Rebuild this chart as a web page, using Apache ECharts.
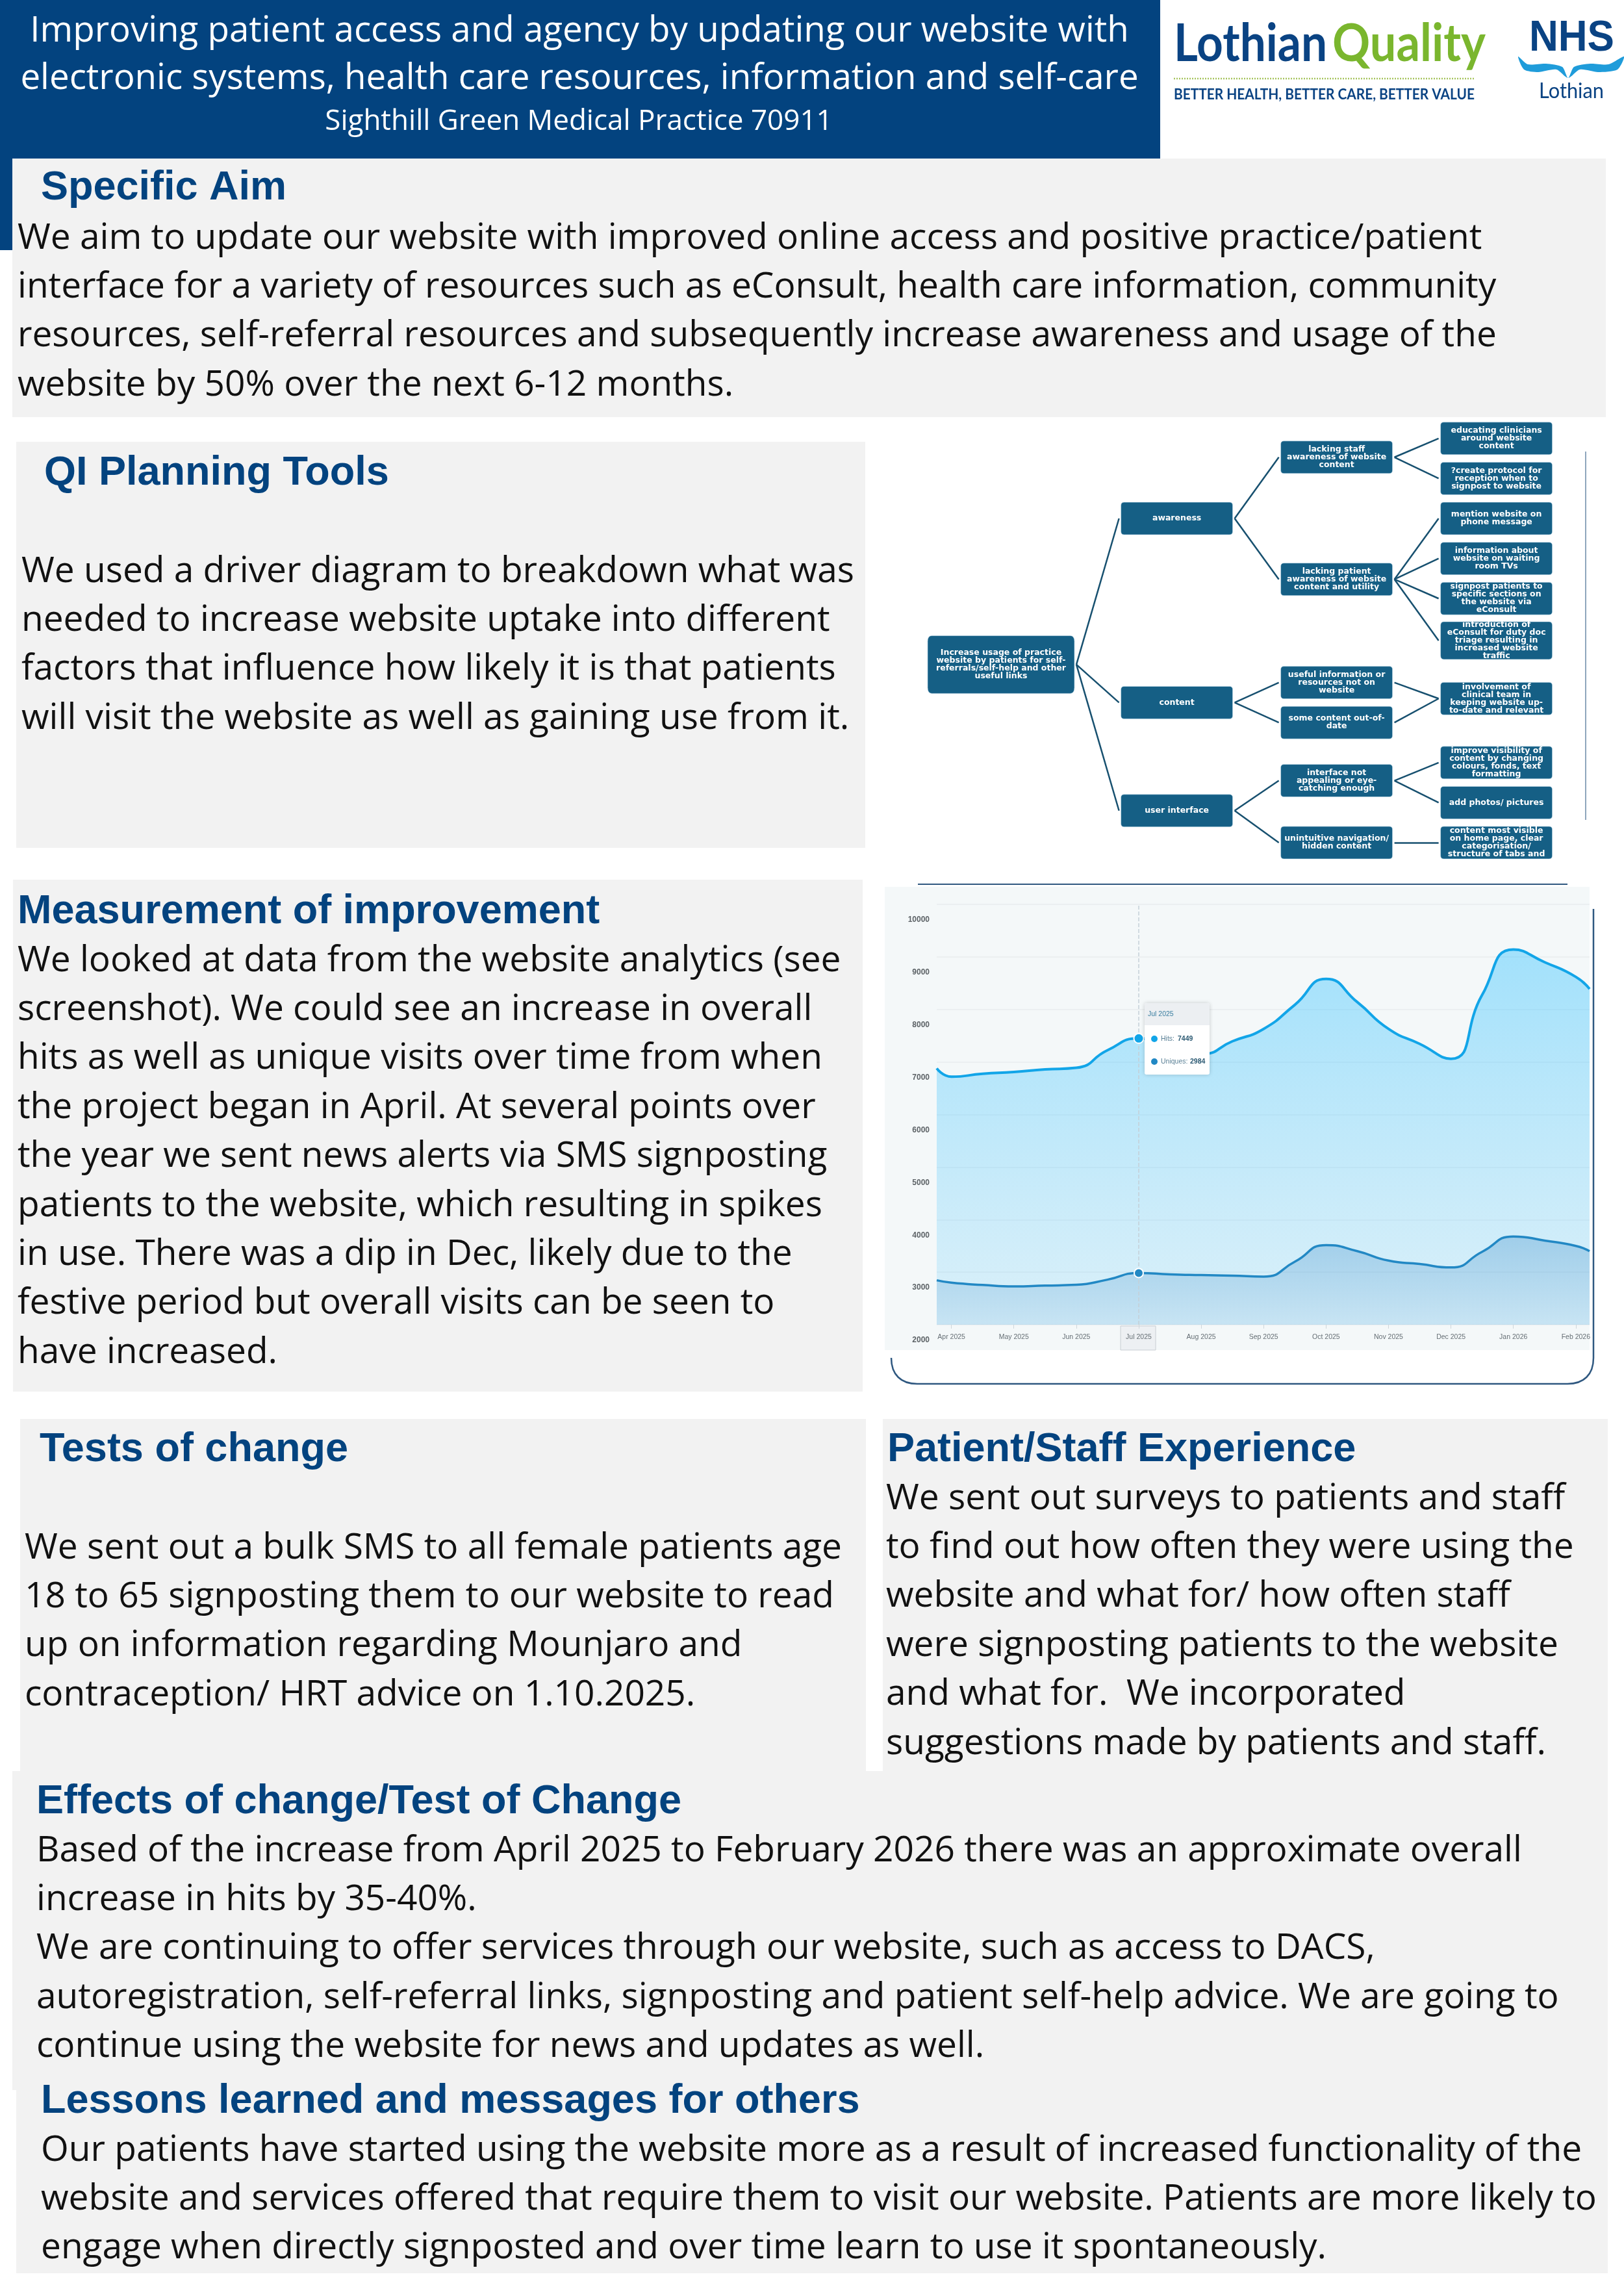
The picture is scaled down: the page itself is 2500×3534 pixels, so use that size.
<!DOCTYPE html>
<html>
<head>
<meta charset="utf-8">
<title>Sighthill Green Medical Practice QI poster</title>
<script src="https://cdn.jsdelivr.net/npm/echarts@6/dist/echarts.min.js"></script>
<style>
html, body { margin: 0; padding: 0; background: #fff; }
#poster { width: 2500px; height: 3534px; }
</style>
</head>
<body>
<div id="poster"></div>
<script>
// analytics chart
var months = ['Apr 2025', 'May 2025', 'Jun 2025', 'Jul 2025', 'Aug 2025', 'Sep 2025', 'Oct 2025', 'Nov 2025', 'Dec 2025', 'Jan 2026', 'Feb 2026'];
var hits = [6720, 6810, 6890, 7449, 7150, 7630, 8580, 7630, 7060, 9140, 8620];
var uniques = [2800, 2730, 2760, 2984, 2945, 2915, 3515, 3220, 3090, 3680, 3500];
// the curve read half way between each month and the next
var hitsBetween = [6776, 6858, 7224, 7280, 7394, 8088, 8140, 7344, 8277, 8900];
var uniquesBetween = [2757, 2745, 2858, 2959, 2934, 3199, 3400, 3155, 3388, 3602];
var hitsEdges = [6880, 8390];       // where the curve is cut by the plot, left and right
var uniquesEdges = [2845, 3400];
var yTicks = [2000, 3000, 4000, 5000, 6000, 7000, 8000, 9000, 10000];
var tipMonth = 'Jul 2025';
var tipHits = '7449';
var tipUniques = '2984';

// driver diagram
var driverLabels = [
    'Increase usage of practice\nwebsite by patients for self-\nreferrals/self-help and other\nuseful links',
    'awareness', 'content', 'user interface',
    'lacking staff\nawareness of website\ncontent',
    'lacking patient\nawareness of website\ncontent and utility',
    'useful information or\nresources not on\nwebsite',
    'some content out-of-\ndate',
    'interface not\nappealing or eye-\ncatching enough',
    'unintuitive navigation/\nhidden content',
    'educating clinicians\naround website\ncontent',
    '?create protocol for\nreception when to\nsignpost to website',
    'mention website on\nphone message',
    'information about\nwebsite on waiting\nroom TVs',
    'signpost patients to\nspecific sections on\nthe website via\neConsult',
    'introduction of\neConsult for duty doc\ntriage resulting in\nincreased website\ntraffic',
    'involvement of\nclinical team in\nkeeping website up-\nto-date and relevant',
    'improve visibility of\ncontent by changing\ncolours, fonds, text\nformatting',
    'add photos/ pictures',
    'content most visible\non home page, clear\ncategorisation/\nstructure of tabs and'
];
var driverColumns = [0, 1.1, 1.1, 1.1, 2.1, 2.1, 2.1, 2.1, 2.1, 2.1, 3.1, 3.1, 3.1, 3.1, 3.1, 3.1, 3.1, 3.1, 3.1, 3.1];
var driverRows = [5.65, 2.0, 6.6, 9.3, 0.47, 3.52, 6.1, 7.1, 8.55, 10.1, 0, 1, 2, 3, 4, 5.05, 6.5, 8.1, 9.1, 10.1];
var driverLinks = [[0, 1], [0, 2], [0, 3], [1, 4], [1, 5], [2, 6], [2, 7], [3, 8], [3, 9],
    [4, 10], [4, 11], [5, 12], [5, 13], [5, 14], [5, 15], [6, 16], [7, 16], [8, 17], [8, 18], [9, 19]];

// poster text
var titleLines = ['Improving patient access and agency by updating our website with', 'electronic systems, health care resources, information and self-care'];
var practiceLine = 'Sighthill Green Medical Practice 70911';
var aimLines = [
    'We aim to update our website with improved online access and positive practice/patient',
    'interface for a variety of resources such as eConsult, health care information, community',
    'resources, self-referral resources and subsequently increase awareness and usage of the',
    'website by 50% over the next 6-12 months.'];
var planningLines = [
    'We used a driver diagram to breakdown what was',
    'needed to increase website uptake into different',
    'factors that influence how likely it is that patients',
    'will visit the website as well as gaining use from it.'];
var measureLines = [
    'We looked at data from the website analytics (see',
    'screenshot). We could see an increase in overall',
    'hits as well as unique visits over time from when',
    'the project began in April. At several points over',
    'the year we sent news alerts via SMS signposting',
    'patients to the website, which resulting in spikes',
    'in use. There was a dip in Dec, likely due to the',
    'festive period but overall visits can be seen to',
    'have increased.'];
var testLines = [
    'We sent out a bulk SMS to all female patients age',
    '18 to 65 signposting them to our website to read',
    'up on information regarding Mounjaro and',
    'contraception/ HRT advice on 1.10.2025.'];
var experienceLines = [
    'We sent out surveys to patients and staff',
    'to find out how often they were using the',
    'website and what for/ how often staff',
    'were signposting patients to the website',
    'and what for.  We incorporated',
    'suggestions made by patients and staff.'];
var effectLines = [
    'Based of the increase from April 2025 to February 2026 there was an approximate overall',
    'increase in hits by 35-40%.',
    'We are continuing to offer services through our website, such as access to DACS,',
    'autoregistration, self-referral links, signposting and patient self-help advice. We are going to',
    'continue using the website for news and updates as well.'];
var lessonLines = [
    'Our patients have started using the website more as a result of increased functionality of the',
    'website and services offered that require them to visit our website. Patients are more likely to',
    'engage when directly signposted and over time learn to use it spontaneously.'];

var NAVY = '#03437f';
var LOGO_BLUE = '#0a4383';
var BODY_FONT = '"Open Sans"';
var HEAD_FONT = '"Liberation Sans"';
var BODY_SIZE = 55;
var BODY_LEADING = 75.4;

var graphics = [];
var measureCtx = document.createElement('canvas').getContext('2d');

function rect(x, y, w, h, fill, z, r) {
    graphics.push({type: 'rect', z: z || -10, shape: {x: x, y: y, width: w, height: h, r: r || 0}, style: {fill: fill}});
}
function text(x, y, str, size, color, opts) {
    opts = opts || {};
    var family = opts.font || BODY_FONT;
    var weight = opts.weight || 'normal';
    var scaleX = 1;
    if (opts.fit) {     // squeeze logo lettering to the width it has in the poster
        measureCtx.font = weight + ' ' + size + 'px ' + family;
        scaleX = opts.fit / measureCtx.measureText(str).width;
    }
    graphics.push({
        type: 'text', z: opts.z || -5, x: x, y: y, scaleX: scaleX,
        style: {
            text: str, fill: color,
            fontFamily: family, fontSize: size, fontWeight: weight,
            align: opts.align || 'left', verticalAlign: 'middle'
        }
    });
}
function paragraph(x, y, lines) {
    for (var n = 0; n < lines.length; n++) {
        text(x, y + n * BODY_LEADING, lines[n], BODY_SIZE, '#111111');
    }
}
function heading(x, y, str) {
    text(x, y, str, 63, NAVY, {font: HEAD_FONT, weight: 'bold'});
}
function stroke(type, shape, color, width, z) {
    graphics.push({type: type, z: z || -9, shape: shape, style: {fill: 'none', stroke: color, lineWidth: width}});
}

// banner
rect(0, 0, 1786, 244, NAVY);
rect(0, 244, 19, 141, NAVY);
text(892, 48, titleLines[0], 54.7, '#ffffff', {align: 'center'});
text(892, 121, titleLines[1], 54.7, '#ffffff', {align: 'center'});
text(891, 187, practiceLine, 44, '#ffffff', {align: 'center'});

// logos
text(1807, 68, 'Lothian', 80, LOGO_BLUE, {font: 'Lato', weight: 'bold', fit: 236});
text(2051, 68, 'Quality', 80, '#7ab62e', {font: 'Lato', weight: 'bold', fit: 236});
graphics.push({type: 'line', z: -5, shape: {x1: 1807, y1: 121, x2: 2270, y2: 121}, style: {stroke: '#a6c45e', lineWidth: 2.5, lineDash: [2, 2]}});
text(1807, 145, 'BETTER HEALTH, BETTER CARE, BETTER VALUE', 23.5, LOGO_BLUE, {font: 'Lato', weight: 'bold', fit: 463});
text(2354, 60, 'NHS', 66, LOGO_BLUE, {font: HEAD_FONT, weight: 'bold', fit: 131});
graphics.push({
    type: 'polygon', z: -5,
    shape: {
        smooth: 0.25,
        points: [[2337, 87], [2352, 99], [2380, 98], [2405, 103], [2414, 120], [2423, 103], [2448, 98], [2476, 99], [2500, 87],
            [2490, 107], [2460, 111], [2432, 107], [2414, 120], [2396, 107], [2368, 111], [2346, 107]]
    },
    style: {fill: '#1f9cda'}
});
text(2369, 140, 'Lothian', 33, LOGO_BLUE, {font: 'Lato', fit: 100});

// panels
rect(19, 244, 2453, 398, '#f2f2f2');
rect(25, 680, 1307, 625, '#f2f2f2');
rect(20, 1354, 1308, 788, '#f2f2f2');
rect(31, 2184, 1302, 542, '#f2f2f2');
rect(1359, 2184, 1116, 542, '#f2f2f2');
rect(19, 2726, 2456, 491, '#f2f2f2');
rect(25, 3217, 2450, 282, '#f2f2f2');

heading(63, 290, 'Specific Aim');
paragraph(27, 367, aimLines);
heading(68, 729, 'QI Planning Tools');
paragraph(33, 880, planningLines);
heading(27, 1404, 'Measurement of improvement');
paragraph(27, 1479, measureLines);
heading(61, 2232, 'Tests of change');
paragraph(38, 2383, testLines);
heading(1366, 2232, 'Patient/Staff Experience');
paragraph(1364, 2307, experienceLines);
heading(56, 2774, 'Effects of change/Test of Change');
paragraph(56, 2849, effectLines);
heading(63, 3235, 'Lessons learned and messages for others');
paragraph(63, 3310, lessonLines);

// frames around the two pasted screenshots
stroke('line', {x1: 2441, y1: 695, x2: 2441, y2: 1262}, '#8fa6bd', 2);
rect(1362, 1365, 1085, 713, '#f4f8f9', -8);
stroke('line', {x1: 1413, y1: 1361, x2: 2413, y2: 1361}, '#2f5880', 2);
stroke('polyline', {points: [[2453, 1399], [2453, 2090]]}, '#2f5880', 2.5);
stroke('bezierCurve', {x1: 2453, y1: 2090, cpx1: 2453, cpy1: 2116, cpx2: 2438, cpy2: 2130, x2: 2413, y2: 2130}, '#2f5880', 2.5);
stroke('line', {x1: 2413, y1: 2130, x2: 1412, y2: 2130}, '#2f5880', 2.5);
stroke('bezierCurve', {x1: 1412, y1: 2130, cpx1: 1387, cpy1: 2130, cpx2: 1372, cpy2: 2116, x2: 1372, y2: 2090}, '#2f5880', 2.5);

// Jul 2025 axis flag and hover card from the analytics screenshot
graphics.push({type: 'rect', z: -1, shape: {x: 1725, y: 2041, width: 54, height: 37}, style: {fill: '#edf0f3', stroke: '#c9ced3', lineWidth: 1}});
graphics.push({type: 'rect', z: 100, shape: {x: 1762, y: 1544, width: 100, height: 110, r: 3},
    style: {fill: '#ffffff', shadowBlur: 6, shadowColor: 'rgba(0,0,0,0.18)'}});
graphics.push({type: 'rect', z: 101, shape: {x: 1762, y: 1544, width: 100, height: 34, r: [3, 3, 0, 0]}, style: {fill: '#eceff2'}});
text(1767, 1561, tipMonth, 10.5, '#3a7ea0', {font: HEAD_FONT, z: 102});
graphics.push({type: 'circle', z: 102, shape: {cx: 1777, cy: 1599, r: 5}, style: {fill: '#12a5e8'}});
text(1787, 1599, 'Hits:', 10.5, '#5b8196', {font: HEAD_FONT, z: 102});
text(1813, 1599, tipHits, 10.5, '#2c5a73', {font: HEAD_FONT, weight: 'bold', z: 102});
graphics.push({type: 'circle', z: 102, shape: {cx: 1777, cy: 1634, r: 5}, style: {fill: '#2288c4'}});
text(1787, 1634, 'Uniques:', 10.5, '#5b8196', {font: HEAD_FONT, z: 102});
text(1832, 1634, tipUniques, 10.5, '#2c5a73', {font: HEAD_FONT, weight: 'bold', z: 102});

// driver diagram goes through a hidden pair of axes, with small port nodes so the
// connectors fan out from the box edges instead of the box centres
var NODE_H = 50;
var COL_UNIT = 246;
var BOX_PATH = 'path://M5 0H167Q172 0 172 5V45Q172 50 167 50H5Q0 50 0 45V5Q0 0 5 0Z';
var driverNodes = [];
for (var n = 0; n < driverLabels.length; n++) {
    var w = n == 0 ? 226 : 172;
    var h = n == 0 ? 89 : (n == 15 ? 58 : NODE_H);
    driverNodes.push({
        name: driverLabels[n],
        value: [driverColumns[n], driverRows[n]],
        symbol: BOX_PATH,
        symbolKeepAspect: false,
        symbolSize: [w, h]
    });
}
var driverEdges = [];
function port(index, side) {
    var half = (driverNodes[index].symbolSize[0] / 2 + 3) / COL_UNIT;
    driverNodes.push({
        name: 'port' + driverNodes.length,
        value: [driverColumns[index] + side * half, driverRows[index]],
        symbol: 'circle',
        symbolSize: 0,
        label: {show: false}
    });
    return driverNodes.length - 1;
}
for (var n = 0; n < driverLinks.length; n++) {
    driverEdges.push({source: port(driverLinks[n][0], 1), target: port(driverLinks[n][1], -1)});
}

function seriesPoints(values, between, edges) {
    var pts = [[-0.235, edges[0]]];
    for (var n = 0; n < values.length; n++) {
        pts.push([n, values[n]]);
        if (n < between.length) pts.push([n + 0.5, between[n]]);
    }
    pts.push([10.22, edges[1]]);
    return pts;
}
var monthIndexes = [];
for (var n = 0; n < months.length; n++) monthIndexes.push(n);

var chart = echarts.init(document.getElementById('poster'));
chart.setOption({
    animation: false,
    backgroundColor: '#ffffff',
    graphic: {elements: graphics},
    grid: [
        {left: 1442, right: 53, top: 1392, bottom: 1495, containLabel: false},
        {left: 1418, width: 984, top: 644, height: 690}
    ],
    xAxis: [
        {
            type: 'value', gridIndex: 0, min: -0.235, max: 10.22,
            splitLine: {show: false},
            axisLine: {show: false},
            axisTick: {show: true, length: 6, customValues: monthIndexes, lineStyle: {color: '#cfd6da'}},
            axisLabel: {
                show: true, customValues: monthIndexes, margin: 14,
                color: '#666f75', fontFamily: HEAD_FONT, fontSize: 10.5,
                formatter: function (v) { return months[Math.round(v)]; }
            }
        },
        {type: 'value', gridIndex: 1, min: -0.5, max: 3.5, show: false}
    ],
    yAxis: [
        {
            type: 'value', gridIndex: 0, min: yTicks[0], max: yTicks[yTicks.length - 1], interval: 1000,
            axisLine: {show: false},
            axisTick: {show: false},
            splitLine: {lineStyle: {color: '#e9ecee', width: 1.5}},
            axisLabel: {
                margin: 11, color: '#5d6367', fontFamily: HEAD_FONT, fontSize: 12, fontWeight: 'bold',
                verticalAlign: 'top', padding: [18, 0, 0, 0],
                formatter: function (v) { return String(v); }
            }
        },
        {type: 'value', gridIndex: 1, min: -0.5, max: 10.7, inverse: true, show: false}
    ],
    series: [
        {
            name: 'Hits', type: 'line', xAxisIndex: 0, yAxisIndex: 0, z: 3,
            data: seriesPoints(hits, hitsBetween, hitsEdges),
            smooth: 0.55, symbol: 'none',
            lineStyle: {color: '#12a5e8', width: 4},
            areaStyle: {
                origin: 'start',
                color: new echarts.graphic.LinearGradient(0, 0, 0, 1, [
                    {offset: 0, color: 'rgba(55,195,255,0.62)'},
                    {offset: 1, color: 'rgba(90,200,250,0.24)'}
                ])
            },
            markLine: {
                silent: true, symbol: 'none', label: {show: false},
                lineStyle: {color: '#c3d0d8', type: 'dashed', width: 1.5},
                data: [{xAxis: 3}]
            },
            markPoint: {
                symbol: 'circle', symbolSize: 15, label: {show: false},
                itemStyle: {color: '#12a5e8', borderColor: '#ffffff', borderWidth: 2},
                data: [{coord: [3, hits[3]]}]
            }
        },
        {
            name: 'Uniques', type: 'line', xAxisIndex: 0, yAxisIndex: 0, z: 4,
            data: seriesPoints(uniques, uniquesBetween, uniquesEdges),
            smooth: 0.55, symbol: 'none',
            lineStyle: {color: '#2288c4', width: 3.5},
            areaStyle: {
                origin: 'start',
                color: new echarts.graphic.LinearGradient(0, 0, 0, 1, [
                    {offset: 0, color: 'rgba(30,120,190,0.38)'},
                    {offset: 1, color: 'rgba(30,120,190,0.14)'}
                ])
            },
            markPoint: {
                symbol: 'circle', symbolSize: 14, label: {show: false},
                itemStyle: {color: '#2288c4', borderColor: '#ffffff', borderWidth: 2},
                data: [{coord: [3, uniques[3]]}]
            }
        },
        {
            name: 'Driver diagram', type: 'graph', layout: 'none', coordinateSystem: 'cartesian2d',
            xAxisIndex: 1, yAxisIndex: 1, z: 5, roam: false,
            itemStyle: {color: '#155f85', borderColor: '#cfe4f0', borderWidth: 0.5},
            label: {
                show: true, position: 'inside', color: '#ffffff',
                fontFamily: '"DejaVu Sans"', fontSize: 12.5, fontWeight: 'bold', lineHeight: 12, align: 'center'
            },
            lineStyle: {color: '#17506f', width: 2.5, opacity: 1, curveness: 0},
            data: driverNodes,
            edges: driverEdges
        }
    ]
});
</script>
</body>
</html>
